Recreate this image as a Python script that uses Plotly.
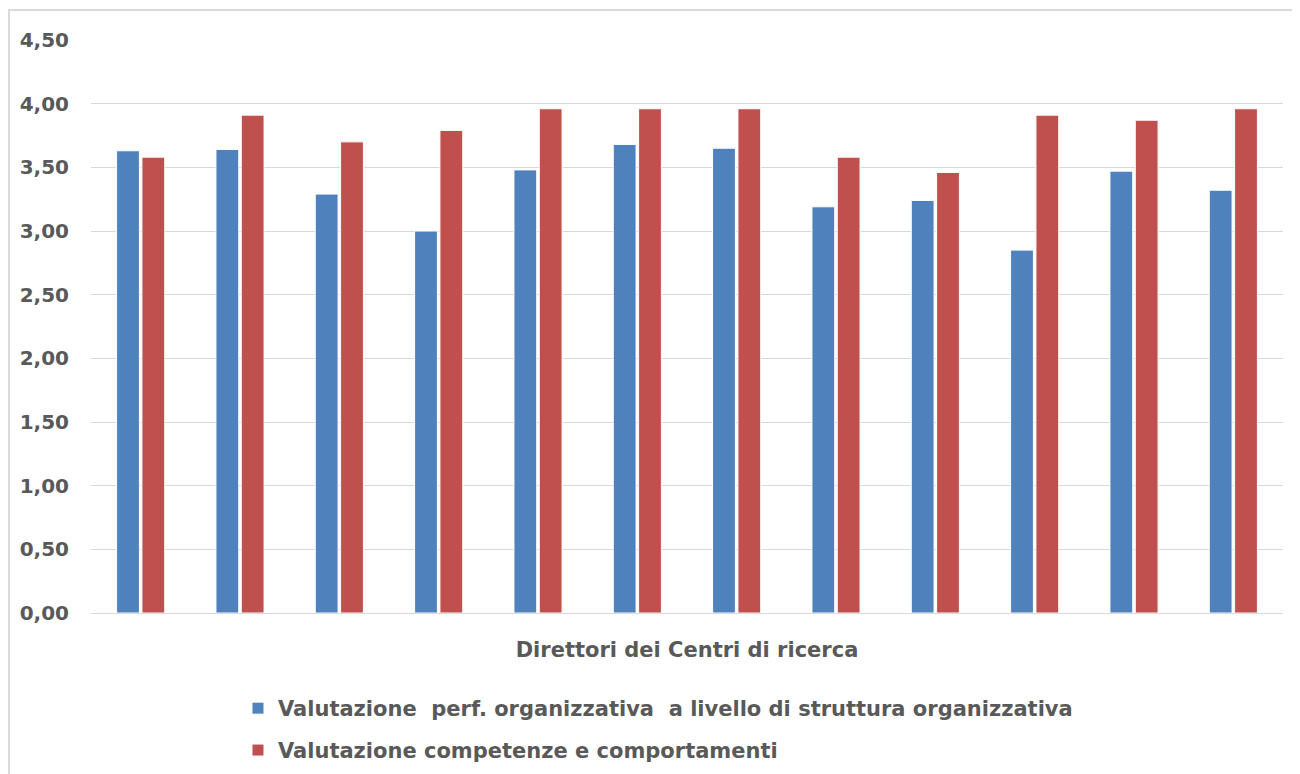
import plotly.graph_objects as go

categories = [str(i) for i in range(1, 13)]
perf_org = [3.63, 3.64, 3.29, 3.00, 3.48, 3.68, 3.65, 3.19, 3.24, 2.85, 3.47, 3.32]
competenze = [3.58, 3.91, 3.70, 3.79, 3.96, 3.96, 3.96, 3.58, 3.46, 3.91, 3.87, 3.96]
y_ticks = [0, 0.5, 1, 1.5, 2, 2.5, 3, 3.5, 4, 4.5]

tick_font = dict(size=20, family="DejaVu Sans", color="#595959", weight="bold")
txt_font = dict(size=21, family="DejaVu Sans", color="#595959", weight="bold")

fig = go.Figure()
fig.add_trace(go.Bar(
    x=categories, y=perf_org,
    name="Valutazione  perf. organizzativa  a livello di struttura organizzativa",
    marker=dict(color="#4F81BD", line=dict(color="#ffffff", width=1)),
    legend="legend",
))
fig.add_trace(go.Bar(
    x=categories, y=competenze,
    name="Valutazione competenze e comportamenti",
    marker=dict(color="#C0504D", line=dict(color="#ffffff", width=1)),
    legend="legend2",
))

# page body has an 8px margin, so the figure is sized to fit the window
fig.update_layout(
    width=1292, height=766,
    margin=dict(l=83, r=17, t=32, b=161, autoexpand=False),
    paper_bgcolor="white", plot_bgcolor="white",
    barmode="group", bargap=0.49, bargroupgap=0.1,
    separators=",.",
    font=txt_font,
    showlegend=True,
    legend=dict(x=0.1233, y=-0.1309, xanchor="left", yanchor="top", font=txt_font),
    legend2=dict(x=0.1233, y=-0.204, xanchor="left", yanchor="top", font=txt_font),
    shapes=[dict(
        type="rect", xref="paper", yref="paper",
        x0=-0.0688, x1=1.0101, y0=-0.40, y1=1.0524,
        line=dict(color="#d9d9d9", width=2), layer="below",
    )],
)

fig.update_yaxes(
    range=[0, 4.5], tickvals=y_ticks, tickformat=".2f",
    showgrid=True, gridcolor="#d9d9d9", gridwidth=1,
    zeroline=False, showline=False, ticks="",
    ticklabelstandoff=21, automargin=False,
    tickfont=tick_font,
)
fig.update_xaxes(
    showticklabels=False, ticks="", showgrid=False,
    showline=True, linecolor="#d9d9d9", linewidth=1,
    automargin=False,
    title=dict(text="Direttori dei Centri di ricerca", standoff=29, font=txt_font),
)

fig.write_html("out.html")
